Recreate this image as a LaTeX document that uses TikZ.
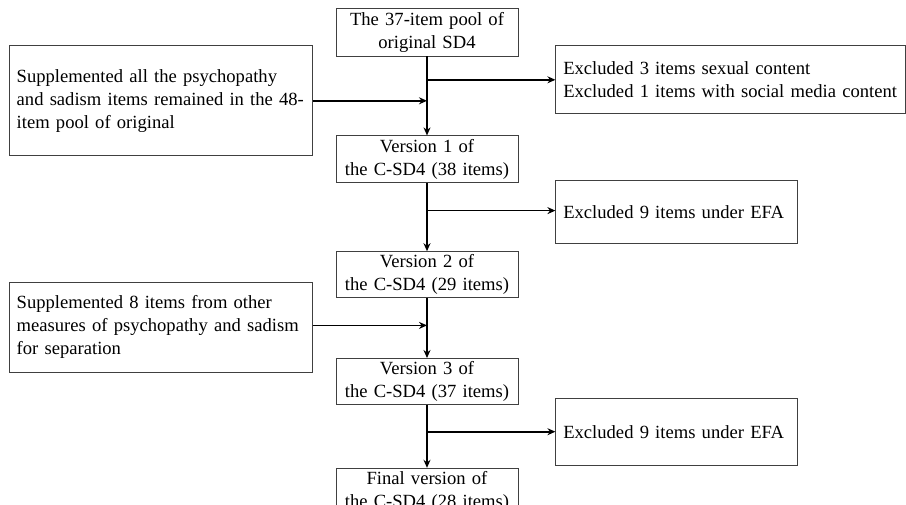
\documentclass[tikz,border=0pt]{standalone}
\usepackage{fontspec}
\setmainfont{Liberation Serif}
\usetikzlibrary{positioning, arrows.meta}

\begin{document}
\begin{tikzpicture}[x=1pt, y=1pt,
  every node/.style={font=\fontsize{18.6}{23}\selectfont},
  stagebox/.style={
    rectangle, draw=black!75, line width=0.8pt,
    text width=172pt, align=center,
    inner xsep=5pt, inner ysep=0pt, minimum height=#1
  },
  sidebox/.style={
    rectangle, draw=black!75, line width=0.8pt,
    text width=#1, align=left,
    inner xsep=7.5pt, inner ysep=0pt
  },
  flow/.style={-{Stealth[length=8pt, width=7pt]}, line width=1.6pt}
]

\useasboundingbox (0,0) rectangle (906,-504);

% main column
\node[stagebox=48pt] (pool) at (427,-32)
  {The 37-item pool of\\ original SD4};
\node[stagebox=47pt, below=79pt of pool] (ver1)
  {Version 1 of\\ the C-SD4 (38 items)};
\node[stagebox=46pt, below=68pt of ver1] (ver2)
  {Version 2 of\\ the C-SD4 (29 items)};
\node[stagebox=46pt, below=60pt of ver2] (ver3)
  {Version 3 of\\ the C-SD4 (37 items)};
\node[stagebox=46pt, below=63pt of ver3] (final)
  {Final version of\\ the C-SD4 (28 items)};

% exclusions (right)
\node[sidebox=335pt, minimum height=68pt, below right=-11pt and 37pt of pool]
  (excl1) {Excluded 3 items sexual content\\
           Excluded 1 items with social media content};
\node[sidebox=227pt, minimum height=63pt, below right=-3pt and 37pt of ver1]
  (excl2) {Excluded 9 items under EFA};
\node[sidebox=227pt, minimum height=67pt, below right=-7pt and 37pt of ver3]
  (excl3) {Excluded 9 items under EFA};

% supplements (left)
\node[sidebox=288pt, minimum height=110pt, below left=-11pt and 23pt of pool]
  (supp1) {Supplemented all the psychopathy\\
           and sadism items remained in the 48-\\
           item pool of original};
\node[sidebox=288pt, minimum height=90pt, below left=-16pt and 23pt of ver2]
  (supp2) {Supplemented 8 items from other\\
           measures of psychopathy and sadism\\
           for separation};

% arrow ends
\coordinate (excl2in) at ([yshift=1.5pt]excl2.west);
\coordinate (supp2out) at ([yshift=2pt]supp2.east);

% arrows
\draw[flow] (pool) -- (ver1);
\draw[flow] (ver1) -- (ver2);
\draw[flow] (ver2) -- (ver3);
\draw[flow] (ver3) -- (final);
\draw[flow] (pool.south |- excl1.west) -- (excl1.west);
\draw[flow] (ver1.south |- excl2in) -- (excl2in);
\draw[flow] (ver3.south |- excl3.west) -- (excl3.west);
\draw[flow] (supp1.east) -- (supp1.east -| pool.south);
\draw[flow] (supp2out) -- (supp2out -| ver2.south);

\end{tikzpicture}
\end{document}
